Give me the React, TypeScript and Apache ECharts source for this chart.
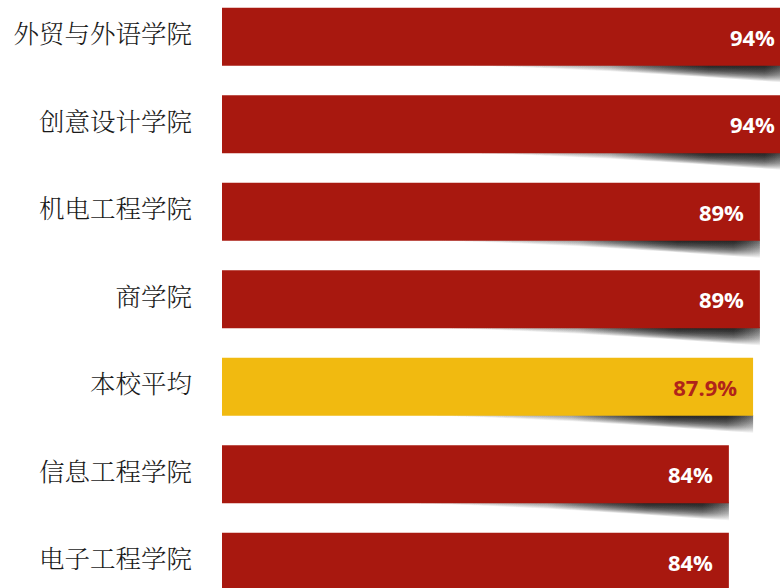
import React, { useEffect, useRef } from "react";
import * as echarts from "echarts";

const categories = ["外贸与外语学院", "创意设计学院", "机电工程学院", "商学院", "本校平均", "信息工程学院", "电子工程学院"];
const values = [94, 94, 89, 89, 87.9, 84, 84];
const highlightCategory = "本校平均";

const RED = "#A8180F";
const YELLOW = "#F1BA10";
const BAR_RATIO = 0.663;

export default function App() {
  const ref = useRef<HTMLDivElement>(null);
  useEffect(() => {
    if (!ref.current) return;
    const chart = echarts.init(ref.current, null, { renderer: "svg" });
    const barData = values.map((v, i) => {
      const hi = categories[i] === highlightCategory;
      return {
        value: v,
        itemStyle: { color: hi ? YELLOW : RED },
        label: { color: hi ? "#B0241A" : "#ffffff" },
      };
    });
    const shadowData = values.map((v, i) => [v, i]);
    chart.setOption({
      animation: false,
      backgroundColor: "#ffffff",
      grid: { left: 222, right: 0, top: 3, bottom: 14.5, containLabel: false },
      xAxis: {
        type: "value",
        min: 2.3,
        max: 100.3,
        show: false,
      },
      yAxis: {
        type: "category",
        data: categories,
        inverse: true,
        axisLine: { show: false },
        axisTick: { show: false },
        splitLine: { show: false },
        axisLabel: {
          margin: 30,
          formatter: (v: string) => "{c|" + v + "}",
          rich: {
            c: {
              color: "#1a1a1a",
              fontSize: 25.5,
              fontWeight: 300,
              padding: [0, 0, 9, 0],
              fontFamily: "'Noto Serif CJK SC', 'Noto Sans CJK SC', serif",
            },
          },
        },
      },
      series: [
        {
          type: "custom",
          z: 1,
          silent: true,
          encode: { x: 0, y: 1 },
          data: shadowData,
          renderItem: (params: any, api: any) => {
            const p = api.coord([api.value(0), api.value(1)]);
            const band = api.size([0, 1])[1];
            const xe = p[0];
            const yb = p[1] + (band * BAR_RATIO) / 2;
            const x0 = xe - 330;
            const children: any[] = [];
            const layers = 16;
            for (let k = 1; k <= layers; k++) {
              const t = (17 * k) / layers;
              const pts: number[][] = [
                [x0, yb - 1],
                [xe, yb - 1],
              ];
              for (let i = 30; i >= 0; i--) {
                const s = i / 30;
                pts.push([x0 + s * (xe - x0), yb + t * Math.pow(s, 1.4)]);
              }
              children.push({
                type: "polygon",
                shape: { points: pts },
                style: {
                  fill: new echarts.graphic.LinearGradient(0, 0, 1, 0, [
                    { offset: 0, color: "rgba(0,0,0,0)" },
                    { offset: 0.45, color: "rgba(0,0,0,0.03)" },
                    { offset: 0.75, color: "rgba(0,0,0,0.11)" },
                    { offset: 0.92, color: "rgba(0,0,0,0.11)" },
                    { offset: 1, color: "rgba(0,0,0,0.05)" },
                  ]),
                },
              });
            }
            return { type: "group", children };
          },
        },
        {
          type: "bar",
          z: 2,
          data: barData,
          barWidth: (BAR_RATIO * 100).toFixed(1) + "%",
          label: {
            show: true,
            position: "insideRight",
            distance: 16,
            fontSize: 22,
            fontWeight: "bold",
            fontFamily: "'Open Sans', 'Noto Sans', sans-serif",
            formatter: (p: any) => p.value + "%",
          },
        },
      ],
    });
    return () => chart.dispose();
  }, []);
  return (
    <div
      style={{
        position: "fixed",
        left: 0,
        top: 0,
        width: 780,
        height: 588,
        overflow: "hidden",
        background: "#fff",
      }}
    >
      <div ref={ref} style={{ position: "absolute", left: 0, top: -10, width: 830, height: 630 }} />
    </div>
  );
}
